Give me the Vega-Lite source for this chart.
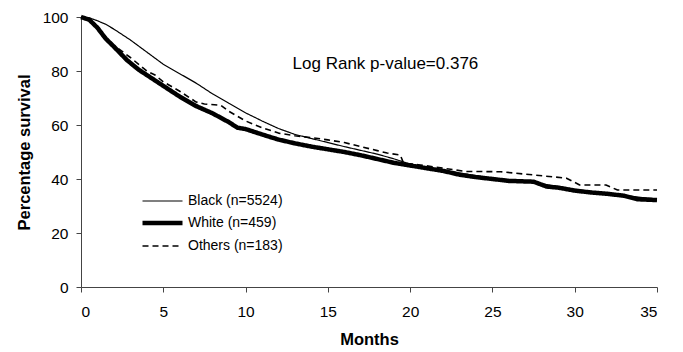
{
  "$schema": "https://vega.github.io/schema/vega-lite/v6.json",
  "width": 576,
  "height": 270,
  "autosize": "none",
  "padding": {"left": 81, "top": 17, "right": 26, "bottom": 65},
  "background": "white",
  "config": {
    "view": {"stroke": null},
    "font": "Liberation Sans",
    "axis": {"grid": false, "domainColor": "#444", "tickColor": "#444", "labelColor": "#000", "titleColor": "#000", "labelFont": "Liberation Sans", "titleFont": "Liberation Sans", "labelFontSize": 15.5, "titleFontSize": 16.5, "titleFontWeight": "bold"}
  },
  "datasets": {
    "surv": [
      {"month": 0, "pct": 100, "group": "Black (n=5524)"},
      {"month": 0.5, "pct": 99.7, "group": "Black (n=5524)"},
      {"month": 1, "pct": 98.6, "group": "Black (n=5524)"},
      {"month": 1.5, "pct": 97.3, "group": "Black (n=5524)"},
      {"month": 2, "pct": 95.5, "group": "Black (n=5524)"},
      {"month": 3, "pct": 91.5, "group": "Black (n=5524)"},
      {"month": 4, "pct": 87, "group": "Black (n=5524)"},
      {"month": 5, "pct": 82.5, "group": "Black (n=5524)"},
      {"month": 6, "pct": 79, "group": "Black (n=5524)"},
      {"month": 7, "pct": 75.5, "group": "Black (n=5524)"},
      {"month": 8, "pct": 71.5, "group": "Black (n=5524)"},
      {"month": 9, "pct": 68, "group": "Black (n=5524)"},
      {"month": 10, "pct": 64.5, "group": "Black (n=5524)"},
      {"month": 11, "pct": 61.5, "group": "Black (n=5524)"},
      {"month": 12, "pct": 58.7, "group": "Black (n=5524)"},
      {"month": 13, "pct": 56.5, "group": "Black (n=5524)"},
      {"month": 14, "pct": 55, "group": "Black (n=5524)"},
      {"month": 15, "pct": 53.5, "group": "Black (n=5524)"},
      {"month": 16, "pct": 52, "group": "Black (n=5524)"},
      {"month": 17, "pct": 50.6, "group": "Black (n=5524)"},
      {"month": 18, "pct": 49.2, "group": "Black (n=5524)"},
      {"month": 19, "pct": 47.5, "group": "Black (n=5524)"},
      {"month": 20, "pct": 45.5, "group": "Black (n=5524)"},
      {"month": 21, "pct": 44.3, "group": "Black (n=5524)"},
      {"month": 22, "pct": 43.3, "group": "Black (n=5524)"},
      {"month": 23, "pct": 42.2, "group": "Black (n=5524)"},
      {"month": 24, "pct": 41.2, "group": "Black (n=5524)"},
      {"month": 25, "pct": 40.4, "group": "Black (n=5524)"},
      {"month": 26, "pct": 39.7, "group": "Black (n=5524)"},
      {"month": 27, "pct": 39.2, "group": "Black (n=5524)"},
      {"month": 28, "pct": 38.2, "group": "Black (n=5524)"},
      {"month": 29, "pct": 37.2, "group": "Black (n=5524)"},
      {"month": 30, "pct": 36.2, "group": "Black (n=5524)"},
      {"month": 31, "pct": 35.4, "group": "Black (n=5524)"},
      {"month": 32, "pct": 34.8, "group": "Black (n=5524)"},
      {"month": 33, "pct": 34, "group": "Black (n=5524)"},
      {"month": 34, "pct": 33.2, "group": "Black (n=5524)"},
      {"month": 35, "pct": 32.6, "group": "Black (n=5524)"},

      {"month": 0, "pct": 100, "group": "White (n=459)"},
      {"month": 0.5, "pct": 99, "group": "White (n=459)"},
      {"month": 1, "pct": 96, "group": "White (n=459)"},
      {"month": 1.5, "pct": 92, "group": "White (n=459)"},
      {"month": 2, "pct": 89, "group": "White (n=459)"},
      {"month": 2.8, "pct": 84, "group": "White (n=459)"},
      {"month": 3.5, "pct": 80.5, "group": "White (n=459)"},
      {"month": 4, "pct": 78.5, "group": "White (n=459)"},
      {"month": 5, "pct": 74.5, "group": "White (n=459)"},
      {"month": 6, "pct": 70.5, "group": "White (n=459)"},
      {"month": 7, "pct": 67, "group": "White (n=459)"},
      {"month": 8, "pct": 64.3, "group": "White (n=459)"},
      {"month": 9, "pct": 61, "group": "White (n=459)"},
      {"month": 9.5, "pct": 59, "group": "White (n=459)"},
      {"month": 10, "pct": 58.5, "group": "White (n=459)"},
      {"month": 11, "pct": 56.5, "group": "White (n=459)"},
      {"month": 12, "pct": 54.6, "group": "White (n=459)"},
      {"month": 13, "pct": 53.2, "group": "White (n=459)"},
      {"month": 14, "pct": 52, "group": "White (n=459)"},
      {"month": 15, "pct": 51, "group": "White (n=459)"},
      {"month": 16, "pct": 50, "group": "White (n=459)"},
      {"month": 17, "pct": 48.8, "group": "White (n=459)"},
      {"month": 18, "pct": 47.4, "group": "White (n=459)"},
      {"month": 19, "pct": 46, "group": "White (n=459)"},
      {"month": 20, "pct": 45, "group": "White (n=459)"},
      {"month": 21, "pct": 44, "group": "White (n=459)"},
      {"month": 22, "pct": 43, "group": "White (n=459)"},
      {"month": 23, "pct": 41.6, "group": "White (n=459)"},
      {"month": 24, "pct": 40.7, "group": "White (n=459)"},
      {"month": 25, "pct": 40, "group": "White (n=459)"},
      {"month": 26, "pct": 39.3, "group": "White (n=459)"},
      {"month": 27.5, "pct": 39, "group": "White (n=459)"},
      {"month": 28.3, "pct": 37.2, "group": "White (n=459)"},
      {"month": 29, "pct": 36.8, "group": "White (n=459)"},
      {"month": 30, "pct": 35.7, "group": "White (n=459)"},
      {"month": 31, "pct": 35, "group": "White (n=459)"},
      {"month": 32, "pct": 34.5, "group": "White (n=459)"},
      {"month": 33, "pct": 33.8, "group": "White (n=459)"},
      {"month": 33.8, "pct": 32.5, "group": "White (n=459)"},
      {"month": 35, "pct": 32.2, "group": "White (n=459)"},

      {"month": 0, "pct": 100, "group": "Others (n=183)"},
      {"month": 0.5, "pct": 99, "group": "Others (n=183)"},
      {"month": 1, "pct": 96.5, "group": "Others (n=183)"},
      {"month": 1.5, "pct": 92.5, "group": "Others (n=183)"},
      {"month": 2, "pct": 89.5, "group": "Others (n=183)"},
      {"month": 3, "pct": 85, "group": "Others (n=183)"},
      {"month": 4, "pct": 80, "group": "Others (n=183)"},
      {"month": 4.5, "pct": 78.5, "group": "Others (n=183)"},
      {"month": 5, "pct": 76, "group": "Others (n=183)"},
      {"month": 6, "pct": 72.5, "group": "Others (n=183)"},
      {"month": 7, "pct": 68.5, "group": "Others (n=183)"},
      {"month": 7.5, "pct": 67.8, "group": "Others (n=183)"},
      {"month": 8.5, "pct": 67.3, "group": "Others (n=183)"},
      {"month": 9, "pct": 65, "group": "Others (n=183)"},
      {"month": 10, "pct": 61.5, "group": "Others (n=183)"},
      {"month": 11, "pct": 59, "group": "Others (n=183)"},
      {"month": 12, "pct": 57, "group": "Others (n=183)"},
      {"month": 13, "pct": 56, "group": "Others (n=183)"},
      {"month": 14, "pct": 55.3, "group": "Others (n=183)"},
      {"month": 15, "pct": 54.5, "group": "Others (n=183)"},
      {"month": 16, "pct": 53.5, "group": "Others (n=183)"},
      {"month": 17, "pct": 52, "group": "Others (n=183)"},
      {"month": 18, "pct": 50.5, "group": "Others (n=183)"},
      {"month": 18.6, "pct": 49.6, "group": "Others (n=183)"},
      {"month": 19.4, "pct": 48.9, "group": "Others (n=183)"},
      {"month": 19.6, "pct": 45.9, "group": "Others (n=183)"},
      {"month": 20.5, "pct": 45.3, "group": "Others (n=183)"},
      {"month": 22, "pct": 44, "group": "Others (n=183)"},
      {"month": 23.4, "pct": 42.8, "group": "Others (n=183)"},
      {"month": 25.5, "pct": 42.7, "group": "Others (n=183)"},
      {"month": 27.5, "pct": 41.5, "group": "Others (n=183)"},
      {"month": 29.5, "pct": 40.3, "group": "Others (n=183)"},
      {"month": 30.3, "pct": 37.8, "group": "Others (n=183)"},
      {"month": 31.9, "pct": 37.8, "group": "Others (n=183)"},
      {"month": 32.6, "pct": 35.9, "group": "Others (n=183)"},
      {"month": 35, "pct": 35.9, "group": "Others (n=183)"}
    ]
  },
  "layer": [
    {
      "data": {"name": "surv"},
      "mark": {"type": "line", "interpolate": "linear", "strokeJoin": "round"},
      "encoding": {
        "x": {"field": "month", "type": "quantitative", "title": "Months",
          "scale": {"domain": [0, 35], "nice": false},
          "axis": {"values": [0, 5, 10, 15, 20, 25, 30, 35], "tickSize": 5, "labelPadding": 12, "titlePadding": 12}},
        "y": {"field": "pct", "type": "quantitative", "title": "Percentage survival",
          "scale": {"domain": [0, 100], "nice": false},
          "axis": {"values": [0, 20, 40, 60, 80, 100], "tickSize": 5, "labelPadding": 8, "titlePadding": 10}},
        "detail": {"field": "group"},
        "color": {"field": "group", "type": "nominal",
          "scale": {"domain": ["Black (n=5524)", "White (n=459)", "Others (n=183)"], "range": ["#000", "#000", "#000"]},
          "legend": {"orient": "none", "legendX": 69, "legendY": 173, "title": null, "symbolType": "M-2,0H2", "symbolSize": 400, "labelFontSize": 14, "labelFont": "Liberation Sans", "labelColor": "#000", "labelOffset": 13, "padding": 0, "rowPadding": 2.5}},
        "strokeWidth": {"field": "group", "type": "nominal",
          "scale": {"type": "ordinal", "domain": ["Black (n=5524)", "White (n=459)", "Others (n=183)"], "range": [1.2, 4.5, 1.6]}},
        "strokeDash": {"field": "group", "type": "nominal",
          "scale": {"domain": ["Black (n=5524)", "White (n=459)", "Others (n=183)"], "range": [[1, 0], [1, 0], [6, 4]]}}
      }
    },
    {
      "data": {"values": [{"label": "Log Rank p-value=0.376"}]},
      "mark": {"type": "text", "font": "Liberation Sans", "fontSize": 17, "color": "#000", "align": "center", "baseline": "middle"},
      "encoding": {
        "x": {"datum": 18.5, "type": "quantitative"},
        "y": {"datum": 82.6, "type": "quantitative"},
        "text": {"field": "label"}
      }
    }
  ]
}
